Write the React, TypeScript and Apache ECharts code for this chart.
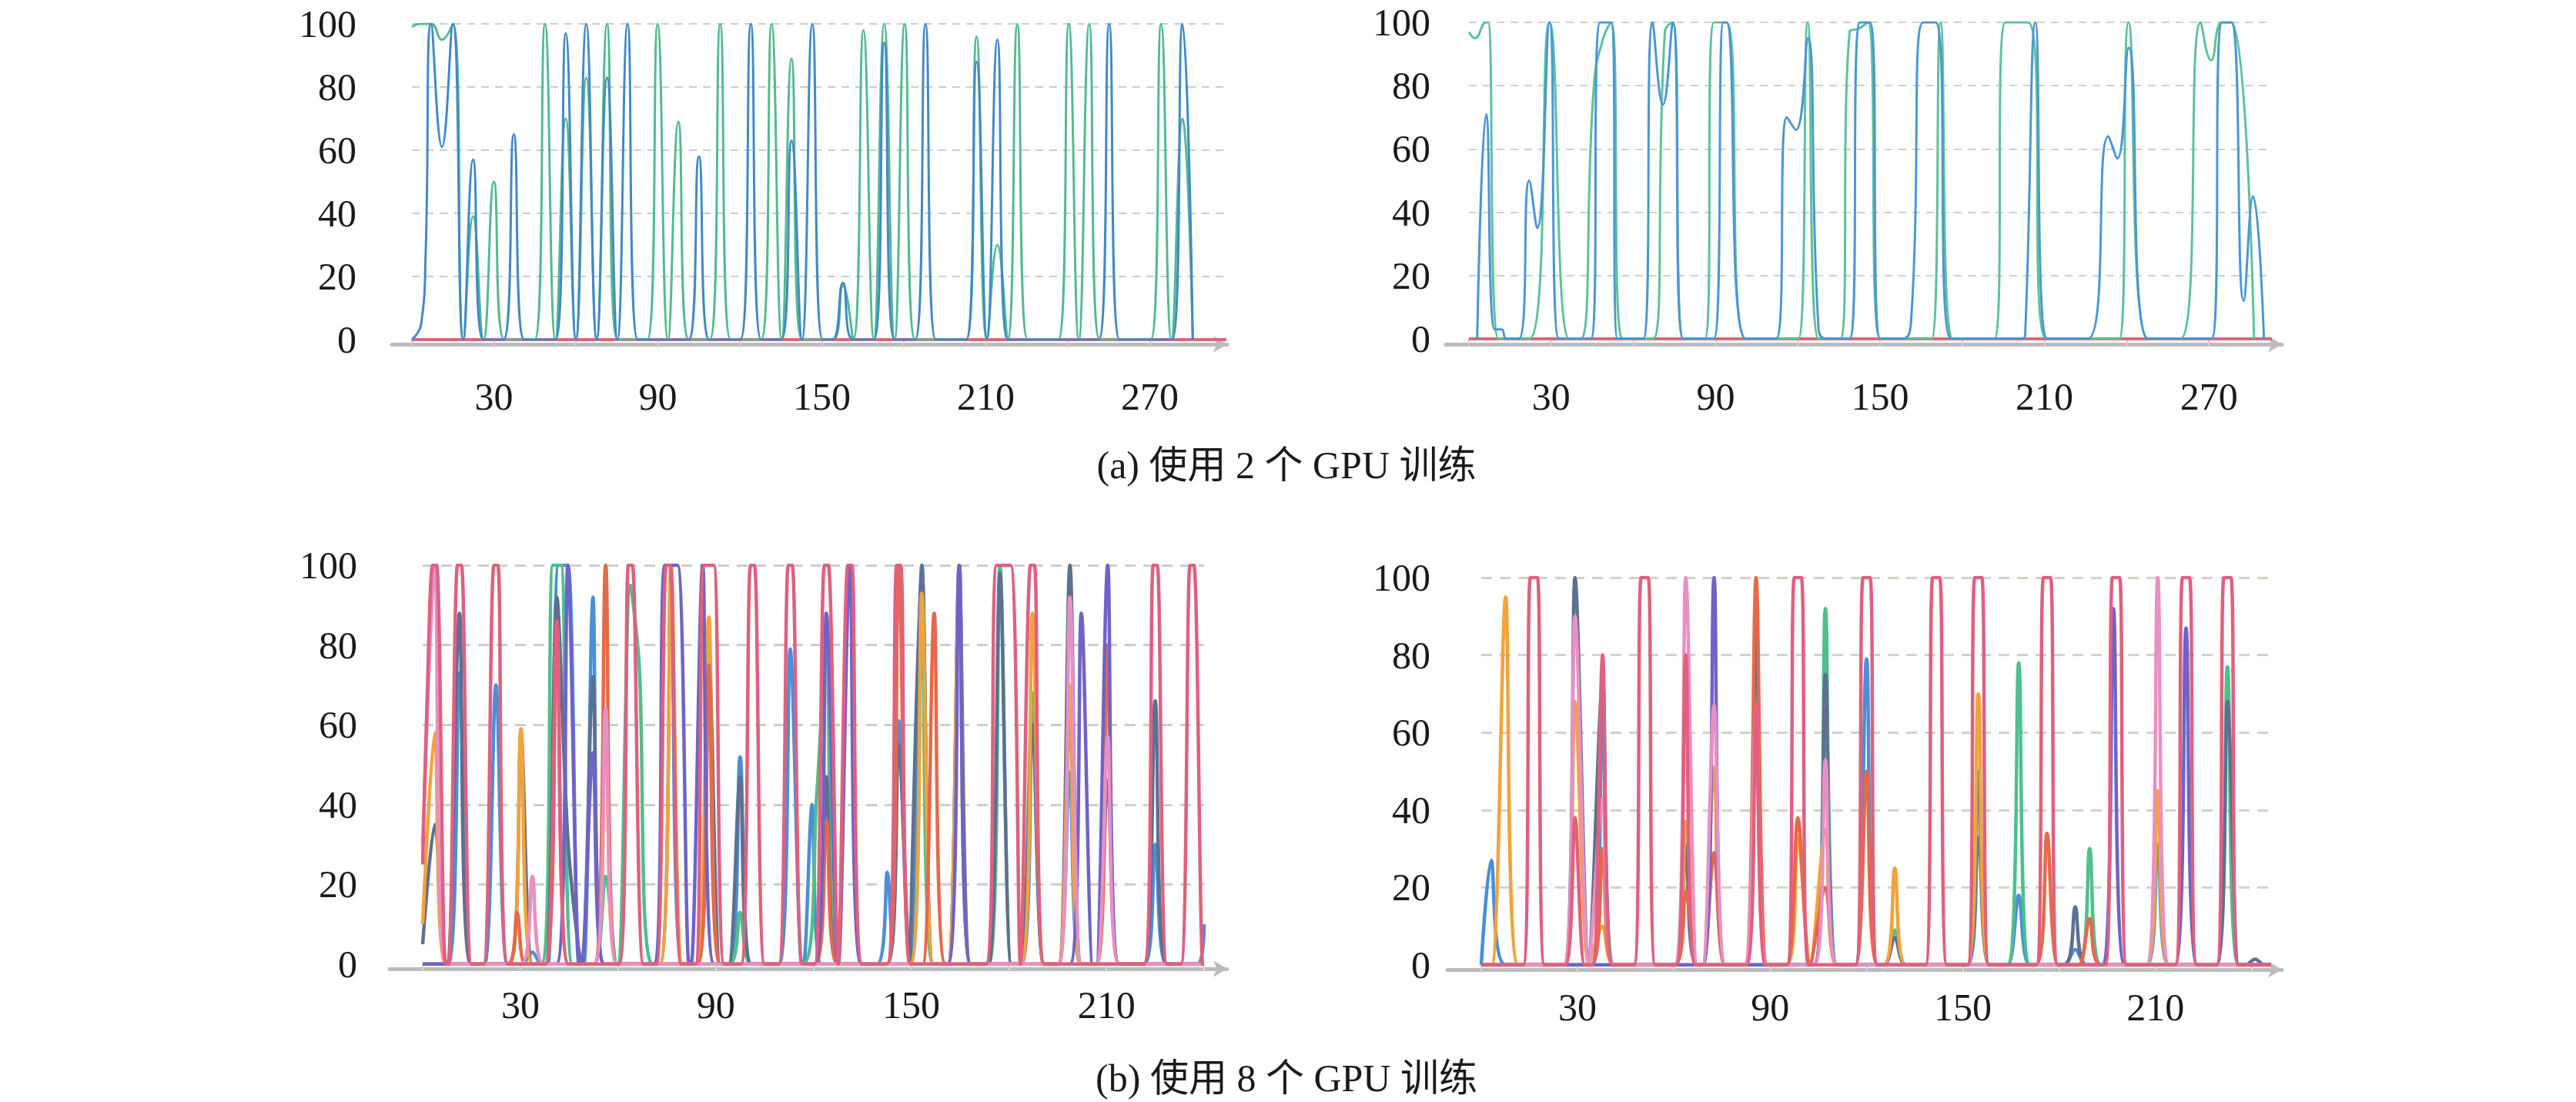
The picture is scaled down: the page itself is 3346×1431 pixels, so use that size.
import { useEffect, useRef } from "react";
import * as echarts from "echarts";

const FONT = '"Liberation Serif", "Times New Roman", "Noto Sans CJK SC", serif';

// (a) 2 GPUs, left run
const aLeftBlue = [
  [0, 0], [3.4, 5], [5, 26], [7, 100], [11, 61], [15, 100], [18.8, 0], [22.4, 57], [26.2, 0],
  [33.5, 0], [37.3, 65], [41.1, 0], [52.5, 0], [56.3, 97], [60, 0], [63.8, 100], [67.6, 0],
  [71.4, 83], [75.2, 0], [78.9, 100], [82.7, 0], [101.2, 0], [105, 58], [108.8, 0], [120.2, 0],
  [124, 100], [127.8, 0], [135.1, 0], [138.9, 63], [142.7, 0], [146.5, 100], [150.3, 0],
  [153.9, 0], [157.7, 18], [161.5, 0], [169, 0], [172.8, 94], [176.6, 0], [184.1, 0],
  [187.9, 100], [191.7, 0], [202.8, 0], [206.6, 88], [210.4, 0], [214.2, 95], [218, 0],
  [251.3, 0], [255.1, 100], [258.9, 0], [278.1, 0], [281.9, 100], [285.7, 0],
];
const aLeftGreen = [
  [0, 99], [3, 100], [7, 100], [11, 95], [15, 100], [18.8, 0], [22.4, 39], [26.2, 0], [30, 50],
  [33.8, 0], [44.9, 0], [48.7, 100], [52.5, 0], [56.3, 70], [60, 0], [63.8, 83], [67.6, 0],
  [71.4, 100], [75.2, 0], [86.1, 0], [89.9, 100], [93.7, 0], [97.5, 69], [101.3, 0], [109, 0],
  [112.8, 100], [116.6, 0], [127.8, 0], [131.6, 100], [135.3, 0], [138.9, 89], [142.7, 0],
  [153.9, 0], [157.7, 17], [161.5, 0], [165.2, 98], [169, 0], [172.8, 100], [176.6, 0],
  [180.3, 100], [184.1, 0], [202.8, 0], [206.6, 96], [210.4, 0], [214.2, 30], [218, 0],
  [221.5, 100], [225.3, 0], [236.5, 0], [240.3, 100], [244, 0], [247.8, 100], [251.6, 0],
  [270.3, 0], [274.1, 100], [277.9, 0], [281.9, 70], [285.7, 0],
];
const aLeftZero = [[0, 0], [298, 0]];

// (a) 2 GPUs, right run
const aRightBlue = [
  [3, 0], [6.3, 71], [9.4, 3], [11.9, 3], [13.7, 0], [18.2, 0], [22, 50], [24.9, 35], [29.4, 100],
  [32.8, 0], [44.5, 0], [47.9, 100], [51.9, 100], [54.2, 0], [63.6, 0], [67, 100], [70.8, 74],
  [74.4, 100], [78.2, 0], [89.4, 0], [92.8, 100], [94, 100], [101.1, 0], [112.1, 0], [116, 70],
  [119.3, 66], [123.6, 95], [127.6, 3], [130.6, 0], [138.9, 0], [142.7, 100], [146.3, 100],
  [150.1, 0], [158, 0], [161.3, 5], [165.8, 100], [170.3, 100], [176, 0], [201.8, 0], [203, 2],
  [206.7, 100], [210.8, 0], [225.8, 0], [233.3, 64], [236.6, 57], [240.7, 92], [247.9, 0],
  [271, 0], [274.8, 100], [278.2, 100], [282.7, 12], [286.1, 45], [290.1, 0],
];
const aRightGreen = [
  [0, 97], [2.2, 95], [6.3, 100], [7, 100], [10.8, 0], [22, 0], [29.4, 100], [36.6, 0], [40.7, 0],
  [45.6, 80], [49, 95], [51.9, 100], [56, 0], [67.2, 0], [71.5, 97], [74.4, 100], [78.2, 0],
  [86.1, 0], [89.4, 100], [93.9, 100], [101.1, 0], [120.2, 0], [123.6, 100], [127.6, 0],
  [135.5, 0], [138.9, 97], [142.2, 98], [145.6, 100], [150.1, 0], [168.8, 0], [172.1, 100],
  [176.4, 0], [191.7, 0], [195.7, 100], [204, 100], [210.8, 0], [237.3, 0], [240.7, 100],
  [247.9, 0], [259.6, 0], [267, 100], [270.8, 88], [274.8, 100], [278.2, 100], [286.5, 0],
];
const aRightZero = [[0, 0], [293, 0]];

// (b) 8 GPUs, left run
const bLeftBlue = [
  [0, 0], [7.8, 0], [11.3, 73], [14.8, 0], [19, 0], [22.5, 70], [26, 0], [30.5, 0], [33.7, 3],
  [36.5, 0], [38.5, 0], [41.7, 100], [44.6, 100], [48, 0], [49.5, 0], [52.3, 92], [55.5, 0],
  [72.8, 0], [76.3, 100], [79.8, 0], [94, 0], [97.5, 52], [101, 0], [109.4, 0], [112.9, 79],
  [116.4, 0], [117, 0], [119.6, 40], [122.5, 0], [139.5, 0], [142.7, 23], [144.2, 5],
  [146.2, 61], [149.5, 0], [150, 0], [153.3, 100], [156.8, 0], [161.3, 0], [164.8, 100],
  [168.3, 0], [183.8, 0], [187.3, 62], [190.8, 0], [195.3, 0], [198.8, 48], [202.3, 0],
  [221.5, 0], [225, 30], [228.5, 0], [238, 0], [240, 10],
];
const bLeftGreen = [
  [0, 0], [36.5, 0], [40, 100], [42.5, 100], [46, 0], [52.7, 0], [56.2, 22], [59.7, 0], [60.3, 0],
  [63.8, 95], [66.5, 75], [70.6, 0], [94, 0], [97.5, 13], [101, 0], [116.7, 0], [121, 42],
  [124, 80], [127.5, 0], [149.8, 0], [153.3, 90], [156.8, 0], [173.8, 0], [177.3, 100],
  [180.8, 0], [183.8, 0], [187.3, 68], [190.8, 0], [195.3, 0], [198.8, 62], [202.3, 0], [240, 0],
];
const bLeftSlate = [
  [0, 5], [3.7, 35], [7.2, 0], [7.8, 0], [11.3, 88], [14.8, 0], [26.7, 0], [30.2, 57], [33.7, 0],
  [37.7, 0], [41.2, 92], [44.7, 30], [48.8, 0], [52.3, 72], [55.8, 0], [84.4, 0], [87.9, 77],
  [91.4, 0], [94, 0], [97.5, 47], [101, 0], [120.5, 0], [124, 47], [127.5, 0], [142.7, 0],
  [146.2, 55], [149.7, 0], [149.8, 0], [153.3, 100], [156.8, 0], [161.3, 0], [164.8, 95],
  [168.3, 0], [173.8, 0], [177.3, 98], [180.8, 0], [183.8, 0], [187.3, 60], [190.8, 0],
  [195.3, 0], [198.8, 100], [202.3, 0], [206.9, 0], [210.4, 46], [213.9, 0], [221.5, 0],
  [225, 66], [228.5, 0], [240, 0],
];
const bLeftOrange = [
  [0, 10], [3.7, 58], [7.2, 0], [26.7, 0], [30.2, 59], [33.7, 0], [52.7, 0], [56.2, 60], [59.7, 0],
  [72.8, 0], [76.3, 100], [79.8, 0], [84.4, 0], [87.9, 87], [91.4, 0], [149.8, 0], [153.3, 93],
  [156.8, 0], [161.3, 0], [164.8, 97], [168.3, 0], [183.8, 0], [187.3, 88], [190.8, 0],
  [195.3, 0], [198.8, 70], [202.3, 0], [240, 0],
];
const bLeftSalmon = [
  [0, 0], [26, 0], [29, 13], [31.5, 0], [37.7, 0], [41.2, 85], [44.7, 0], [52.7, 0], [56.2, 100],
  [59.7, 0], [84.4, 0], [87.9, 75], [91.4, 0], [120.5, 0], [124, 36], [127.5, 0], [142.7, 0],
  [146.2, 100], [149.7, 0], [153.6, 0], [157.1, 88], [160.6, 0], [206.9, 0], [210.4, 80],
  [213.9, 0], [240, 0],
];
const bLeftPurple = [
  [0, 0], [41.1, 0], [44.6, 100], [48.1, 0], [48.8, 0], [52.3, 53], [55.8, 0], [71, 0], [74.4, 100],
  [78.3, 100], [81.8, 0], [82.5, 0], [86, 100], [89.5, 0], [120.5, 0], [124, 88], [127.5, 0],
  [127.7, 0], [131.2, 100], [134.7, 0], [161.3, 0], [164.8, 100], [168.3, 0], [198.8, 0],
  [202.3, 88], [205.8, 0], [206.9, 0], [210.4, 100], [213.9, 0], [240, 0],
];
const bLeftLightPink = [
  [0, 30], [3.7, 100], [7.2, 0], [30.2, 0], [33.7, 22], [37.2, 0], [52.7, 0], [56.2, 64], [59.7, 0],
  [195.3, 0], [198.8, 92], [202.3, 0], [206.9, 0], [210.4, 57], [213.9, 0], [240, 0],
];
const bLeftRose = [
  [0, 25], [1.5, 70], [3.1, 100], [4.3, 100], [7, 0], [8, 0], [10.7, 100], [11.9, 100], [15, 0],
  [18.7, 0], [21.9, 100], [23.1, 100], [26.2, 0], [37.6, 0], [41.2, 86], [44.8, 0], [60.3, 0],
  [63.2, 100], [64.4, 100], [67.8, 0], [71.8, 0], [74.8, 100], [76, 100], [79.4, 0], [83.8, 0],
  [86.4, 100], [89.4, 100], [92.6, 0], [97.8, 0], [100.7, 100], [101.9, 100], [105, 0],
  [109.4, 0], [112.3, 100], [113.5, 100], [116.6, 0], [120.4, 0], [123.4, 100], [124.6, 100],
  [127.6, 0], [130.6, 100], [131.8, 100], [135, 0], [142.6, 0], [145.6, 100], [146.8, 100],
  [150, 0], [173, 0], [176.3, 100], [180.6, 100], [183.6, 0], [186.7, 100], [187.9, 100],
  [191, 0], [221.6, 0], [224.4, 100], [225.6, 100], [228.6, 0], [232.9, 0], [235.7, 100],
  [236.9, 100], [239.6, 0], [240, 0],
];

// (b) 8 GPUs, right run
const bRightBlue = [
  [0, 0], [3.1, 27], [7.6, 0], [34.3, 0], [37.8, 66], [41.3, 0], [103.7, 0], [107.2, 68],
  [110.7, 0], [116.5, 0], [120, 79], [123.5, 0], [151.3, 0], [154.8, 33], [158.3, 0], [163.9, 0],
  [167.4, 18], [170.9, 0], [181.5, 0], [185, 4], [188.5, 0], [207.2, 0], [210.7, 31], [214.2, 0],
  [246, 0],
];
const bRightGreen = [
  [0, 0], [103.7, 0], [107.2, 92], [110.7, 0], [125.3, 0], [128.8, 9], [132.3, 0], [163.9, 0],
  [167.4, 78], [170.9, 0], [186, 0], [189.5, 30], [193, 0], [228.9, 0], [232.4, 77], [235.9, 0],
  [246, 0],
];
const bRightSlate = [
  [0, 0], [25.7, 0], [29.2, 100], [33.5, 0], [37.8, 73], [41.3, 0], [60.2, 0], [63.7, 31], [67.2, 0],
  [82.1, 0], [85.6, 90], [89.1, 0], [103.7, 0], [107.2, 75], [110.7, 0], [125.3, 0], [128.8, 7],
  [132.3, 0], [151.3, 0], [154.8, 50], [158.3, 0], [181.5, 0], [185, 15], [188.5, 0], [228.9, 0],
  [232.4, 68], [235.9, 0], [238, 0], [241, 1.5], [244, 0], [246, 0],
];
const bRightOrange = [
  [0, 0], [3.3, 0], [7.6, 95], [11.5, 0], [25.7, 0], [29.2, 68], [33.5, 0], [37.8, 10], [41.3, 0],
  [60.2, 0], [63.7, 37], [67.2, 0], [69, 0], [72.5, 51], [76, 0], [95.1, 0], [98.6, 33],
  [102.4, 0], [107.2, 35], [110.7, 0], [125.3, 0], [128.8, 25], [132.3, 0], [151.3, 0],
  [154.8, 70], [158.3, 0], [207.2, 0], [210.7, 45], [214.2, 0], [246, 0],
];
const bRightSalmon = [
  [0, 0], [34.3, 0], [37.8, 30], [41.3, 0], [60.2, 0], [63.7, 19], [67.2, 0], [69, 0], [72.5, 29],
  [76, 0], [82.1, 0], [85.6, 100], [89.1, 0], [95.1, 0], [98.6, 38], [102.4, 0], [107.2, 20],
  [110.7, 0], [116.5, 0], [120, 50], [123.5, 0], [172.7, 0], [176.2, 34], [179.7, 0], [186, 0],
  [189.5, 12], [193, 0], [246, 0],
];
const bRightPurple = [
  [0, 0], [69, 0], [72.5, 100], [76, 0], [193.4, 0], [196.9, 92], [200.4, 0], [216, 0],
  [219.5, 87], [223, 0], [246, 0],
];
const bRightLightPink = [
  [0, 0], [25.7, 0], [29.2, 90], [33.5, 0], [37.8, 43], [41.3, 0], [60.2, 0], [63.7, 100], [67.2, 0],
  [69, 0], [72.5, 67], [76, 0], [82.1, 0], [85.6, 67], [89.1, 0], [103.7, 0], [107.2, 53],
  [110.7, 0], [207.2, 0], [210.7, 100], [214.2, 0], [246, 0],
];
const bRightRose = [
  [0, 0], [13.1, 0], [15.3, 100], [17.5, 100], [19.7, 0], [26.2, 0], [29.2, 38], [32.2, 0],
  [34.8, 0], [37.8, 80], [40.8, 0], [47.6, 0], [49.8, 100], [52, 100], [54.2, 0], [60.7, 0],
  [63.7, 80], [66.7, 0], [82.6, 0], [85.6, 67], [88.6, 0], [95.3, 0], [97.5, 100], [99.7, 100],
  [101.9, 0], [116.7, 0], [118.9, 100], [121.1, 100], [123.3, 0], [138.4, 0], [140.6, 100],
  [142.8, 100], [145, 0], [151.5, 0], [153.7, 100], [155.9, 100], [158.1, 0], [172.9, 0],
  [175.1, 100], [177.3, 100], [179.5, 0], [194.4, 0], [196.6, 100], [198.8, 100], [201, 0],
  [216.2, 0], [218.4, 100], [220.6, 100], [222.8, 0], [229.1, 0], [231.3, 100], [233.5, 100],
  [235.7, 0], [246, 0],
];

const yTicks = [0, 20, 40, 60, 80, 100];
const topLabels = [30, 90, 150, 210, 270];
const topTicks = [0, 30, 60, 90, 120, 150, 180, 210, 240, 270];
const bottomLabels = [30, 90, 150, 210];
const bottomTicks = [0, 30, 60, 90, 120, 150, 180, 210, 240];
const captionA = "(a) 使用 2 个 GPU 训练";
const captionB = "(b) 使用 8 个 GPU 训练";

const BLUE = "#4289c8";
const GREEN = "#53bb8e";
const RED0 = "#d9687c";
const bColors = {
  blue: "#4a8fd8",
  green: "#4fbf8c",
  slate: "#5d7092",
  orange: "#f2a33a",
  salmon: "#e8684a",
  purple: "#6f63c9",
  lightPink: "#e890c4",
  rose: "#e0607e",
};

type Panel = {
  left: number; top: number; width: number; height: number; max: number;
  axisLeft: number; axisRight: number; axisY: number;
  yMargin: number; xMargin: number;
  labels: number[]; ticks: number[]; tickColor: string;
  gridColor: string; gridWidth: number; dash: number[];
  lines: { data: number[][]; color: string; width: number; smooth: number }[];
};

const bottomLines = (set: Record<string, number[][]>) =>
  ["blue", "green", "slate", "orange", "salmon", "purple", "lightPink", "rose"].map((k) => ({
    data: set[k],
    color: bColors[k as keyof typeof bColors],
    width: 4.5,
    smooth: 0.3,
  }));

const panels: Panel[] = [
  {
    left: 535, top: 31, width: 1058, height: 410, max: 298,
    axisLeft: 509, axisRight: 1594, axisY: 447, yMargin: 72, xMargin: 49,
    labels: topLabels, ticks: topTicks, tickColor: "#efc3c9",
    gridColor: "#c9ccd0", gridWidth: 2, dash: [10, 8],
    lines: [
      { data: aLeftZero, color: RED0, width: 4, smooth: 0 },
      { data: aLeftGreen, color: GREEN, width: 3, smooth: 0.5 },
      { data: aLeftBlue, color: BLUE, width: 3, smooth: 0.5 },
    ],
  },
  {
    left: 1908, top: 29, width: 1043, height: 411, max: 293,
    axisLeft: 1878, axisRight: 2964, axisY: 447, yMargin: 50, xMargin: 50,
    labels: topLabels, ticks: topTicks, tickColor: "#efc3c9",
    gridColor: "#cdd0d2", gridWidth: 2, dash: [10, 8],
    lines: [
      { data: aRightZero, color: RED0, width: 4, smooth: 0 },
      { data: aRightGreen, color: "#5cc397", width: 3, smooth: 0.5 },
      { data: aRightBlue, color: "#4b97d4", width: 3, smooth: 0.5 },
    ],
  },
  {
    left: 549, top: 734, width: 1015, height: 518, max: 240,
    axisLeft: 506, axisRight: 1594, axisY: 1258, yMargin: 85, xMargin: 28,
    labels: bottomLabels, ticks: bottomTicks, tickColor: "#d6d6d6",
    gridColor: "#cdcdcd", gridWidth: 3, dash: [14, 10],
    lines: bottomLines({
      blue: bLeftBlue, green: bLeftGreen, slate: bLeftSlate, orange: bLeftOrange,
      salmon: bLeftSalmon, purple: bLeftPurple, lightPink: bLeftLightPink, rose: bLeftRose,
    }),
  },
  {
    left: 1924, top: 750, width: 1026, height: 503, max: 246,
    axisLeft: 1880, axisRight: 2964, axisY: 1259, yMargin: 66, xMargin: 30,
    labels: bottomLabels, ticks: bottomTicks, tickColor: "#d6d6d6",
    gridColor: "#d6d1c6", gridWidth: 3, dash: [14, 10],
    lines: bottomLines({
      blue: bRightBlue, green: bRightGreen, slate: bRightSlate, orange: bRightOrange,
      salmon: bRightSalmon, purple: bRightPurple, lightPink: bRightLightPink, rose: bRightRose,
    }),
  },
];

function App() {
  const chartRef = useRef<HTMLDivElement>(null);

  useEffect(() => {
    document.body.style.margin = "0";
    const chart = echarts.init(chartRef.current, null, { renderer: "svg" });

    const grid: any[] = [];
    const xAxis: any[] = [];
    const yAxis: any[] = [];
    const series: any[] = [];

    panels.forEach((p, i) => {
      const g = i * 2;
      grid.push({ left: p.left, top: p.top, width: p.width, height: p.height });
      // wider strip that only carries the grey arrowed axis line
      grid.push({ left: p.axisLeft, top: p.axisY - 2, width: p.axisRight - p.axisLeft, height: 2 });

      xAxis.push({
        type: "value",
        gridIndex: g,
        min: 0,
        max: p.max,
        axisLine: { show: false },
        axisTick: {
          show: true,
          customValues: p.ticks,
          length: 10,
          lineStyle: { color: p.tickColor, width: 2 },
        },
        axisLabel: {
          customValues: p.labels,
          margin: p.xMargin,
          fontFamily: FONT,
          fontSize: 50,
          color: "#1a1a1a",
        },
        splitLine: { show: false },
      });
      xAxis.push({
        type: "value",
        gridIndex: g + 1,
        min: 0,
        max: 1,
        axisLine: {
          show: true,
          symbol: ["none", "arrow"],
          symbolSize: [16, 18],
          lineStyle: { color: "#bcbcbc", width: 5 },
        },
        axisTick: { show: false },
        axisLabel: { show: false },
        splitLine: { show: false },
      });

      yAxis.push({
        type: "value",
        gridIndex: g,
        min: 0,
        max: 100,
        interval: 20,
        axisLine: { show: false },
        axisTick: { show: false },
        axisLabel: {
          margin: p.yMargin,
          fontFamily: FONT,
          fontSize: 50,
          lineHeight: 44,
          color: "#1a1a1a",
          customValues: yTicks,
        },
        splitLine: {
          show: true,
          lineStyle: { color: p.gridColor, width: p.gridWidth, type: p.dash },
        },
      });
      yAxis.push({ type: "value", gridIndex: g + 1, min: 0, max: 1, show: false });

      p.lines.forEach((l) => {
        series.push({
          type: "line",
          xAxisIndex: g,
          yAxisIndex: g,
          data: l.data,
          smooth: l.smooth,
          showSymbol: false,
          silent: true,
          lineStyle: { color: l.color, width: l.width },
          itemStyle: { color: l.color },
        });
      });
    });

    const option = {
      animation: false,
      backgroundColor: "#ffffff",
      grid,
      xAxis,
      yAxis,
      series,
      graphic: [
        {
          type: "text",
          x: 1671,
          y: 604,
          style: {
            text: captionA,
            fontFamily: FONT,
            fontSize: 50,
            fill: "#1a1a1a",
            align: "center",
            verticalAlign: "middle",
            textAlign: "center",
            textVerticalAlign: "middle",
          },
        },
        {
          type: "text",
          x: 1671,
          y: 1400,
          style: {
            text: captionB,
            fontFamily: FONT,
            fontSize: 50,
            fill: "#1a1a1a",
            align: "center",
            verticalAlign: "middle",
            textAlign: "center",
            textVerticalAlign: "middle",
          },
        },
      ],
    };

    chart.setOption(option);

    return () => {
      chart.dispose();
    };
  }, []);

  return <div ref={chartRef} style={{ width: "3346px", height: "1431px" }} />;
}

export default App;
